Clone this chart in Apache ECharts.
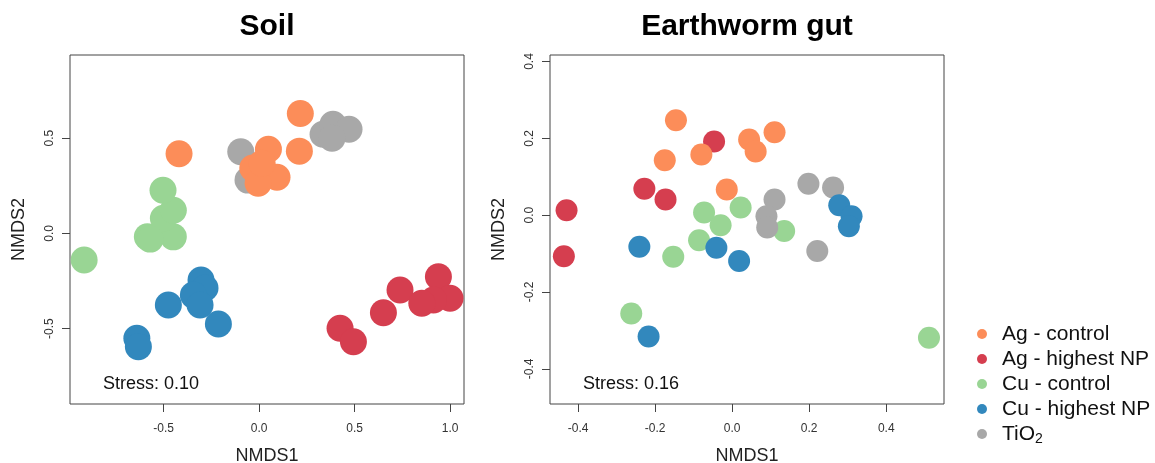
<!DOCTYPE html>
<html>
<head>
<meta charset="utf-8">
<script src="https://cdn.jsdelivr.net/npm/echarts@6/dist/echarts.min.js"></script>
<style>html,body{margin:0;padding:0;background:#fff;}#c{width:1155px;height:463px;}</style>
</head>
<body>
<div id="c"></div>
<script>
// ---- Data ----
const groupNames = ['Ag - control', 'Ag - highest NP', 'Cu - control', 'Cu - highest NP', 'TiO2'];
const groupColors = ['#FC8D59', '#D53E4F', '#99D594', '#3288BD', '#A8A8A8'];

// Soil panel
const soilAgControl = [[0.216,0.630],[-0.419,0.418],[0.211,0.432],[0.049,0.442],[-0.033,0.343],[0.094,0.295],[-0.005,0.264],[0.016,0.369]];
const soilAgHighNP  = [[0.939,-0.228],[0.738,-0.297],[1.000,-0.341],[0.913,-0.350],[0.852,-0.367],[0.651,-0.417],[0.424,-0.498],[0.494,-0.569]];
const soilCuControl = [[-0.916,-0.140],[-0.585,-0.018],[-0.449,-0.018],[-0.501,0.080],[-0.449,0.122],[-0.503,0.227],[-0.570,-0.030]];
const soilCuHighNP  = [[-0.304,-0.245],[-0.283,-0.287],[-0.344,-0.324],[-0.309,-0.376],[-0.475,-0.376],[-0.213,-0.476],[-0.640,-0.551],[-0.632,-0.595]];
const soilTiO2      = [[-0.096,0.429],[-0.058,0.280],[0.335,0.521],[0.387,0.573],[0.471,0.547],[0.382,0.500]];

// Earthworm gut panel
const gutAgControl = [[-0.146,0.247],[-0.175,0.143],[-0.080,0.158],[0.044,0.197],[0.061,0.166],[0.110,0.216],[-0.014,0.067]];
const gutAgHighNP  = [[-0.047,0.192],[-0.228,0.069],[-0.173,0.041],[-0.430,0.013],[-0.437,-0.107]];
const gutCuControl = [[-0.073,0.007],[0.022,0.020],[-0.030,-0.026],[-0.086,-0.065],[-0.153,-0.108],[0.135,-0.041],[-0.262,-0.256],[0.511,-0.319]];
const gutCuHighNP  = [[-0.241,-0.082],[-0.041,-0.085],[0.018,-0.119],[-0.217,-0.316],[0.278,0.026],[0.310,-0.003],[0.303,-0.029]];
const gutTiO2      = [[0.198,0.082],[0.262,0.072],[0.110,0.041],[0.089,-0.003],[0.091,-0.032],[0.221,-0.093]];

// Axis ranges and ticks
const soilXRange = [-0.99, 1.073], soilYRange = [-0.896, 0.937];
const gutXRange = [-0.473, 0.550], gutYRange = [-0.4915, 0.417];
const soilXTicks = [-0.5, 0, 0.5, 1.0];
const soilYTicks = [-0.5, 0, 0.5];
const gutXTicks = [-0.4, -0.2, 0, 0.2, 0.4];
const gutYTicks = [-0.4, -0.2, 0, 0.2, 0.4];
const stressSoil = 'Stress: 0.10';
const stressGut = 'Stress: 0.16';

// ---- Chart ----
const FONT = 'Liberation Sans, Arial, sans-serif';
const chart = echarts.init(document.getElementById('c'), null, {renderer: 'canvas'});

function xAxis(idx, range, ticks) {
  return {
    type: 'value', gridIndex: idx, min: range[0], max: range[1], position: 'bottom',
    name: 'NMDS1', nameLocation: 'middle', nameGap: 43, nameMoveOverlap: false,
    nameTextStyle: {fontSize: 18, color: '#222', fontFamily: FONT},
    axisLine: {show: false, onZero: false},
    axisTick: {show: true, inside: false, length: 8, customValues: ticks, lineStyle: {color: '#444'}},
    axisLabel: {show: true, customValues: ticks, margin: 19, fontSize: 12, color: '#333', fontFamily: FONT,
      formatter: v => v.toFixed(1)},
    splitLine: {show: false}
  };
}
function yAxis(idx, range, ticks) {
  return {
    type: 'value', gridIndex: idx, min: range[0], max: range[1], position: 'left',
    name: 'NMDS2', nameLocation: 'middle', nameGap: 42, nameMoveOverlap: false,
    nameTextStyle: {fontSize: 18, color: '#222', fontFamily: FONT},
    axisLine: {show: false, onZero: false},
    axisTick: {show: true, inside: false, length: 8, customValues: ticks, lineStyle: {color: '#444'}},
    axisLabel: {show: true, customValues: ticks, rotate: 90, margin: 14, fontSize: 12, color: '#333', fontFamily: FONT,
      formatter: v => v.toFixed(1)},
    splitLine: {show: false}
  };
}

const soilData = [soilAgControl, soilAgHighNP, soilCuControl, soilCuHighNP, soilTiO2];
const gutData = [gutAgControl, gutAgHighNP, gutCuControl, gutCuHighNP, gutTiO2];
// drawing order (later on top): Ag highest NP, Cu control, TiO2, Ag control, Cu highest NP
const drawOrder = [1, 2, 4, 0, 3];

const series = [];
[[soilData, 0, 27], [gutData, 1, 22]].forEach(([data, gi, size]) => {
  drawOrder.forEach(k => {
    series.push({
      type: 'scatter', name: groupNames[k], xAxisIndex: gi, yAxisIndex: gi,
      data: data[k], symbol: 'circle', symbolSize: size,
      itemStyle: {color: groupColors[k], opacity: 1, borderWidth: 0},
      emphasis: {disabled: true}, silent: true
    });
  });
});

chart.setOption({
  animation: false,
  backgroundColor: '#fff',
  grid: [
    {left: 70, top: 55, width: 394, height: 349, show: true, borderColor: '#444', borderWidth: 1, backgroundColor: 'transparent', outerBoundsMode: 'none', containLabel: false},
    {left: 550, top: 55, width: 394, height: 349, show: true, borderColor: '#444', borderWidth: 1, backgroundColor: 'transparent', outerBoundsMode: 'none', containLabel: false}
  ],
  xAxis: [xAxis(0, soilXRange, soilXTicks), xAxis(1, gutXRange, gutXTicks)],
  yAxis: [yAxis(0, soilYRange, soilYTicks), yAxis(1, gutYRange, gutYTicks)],
  legend: {
    orient: 'vertical', left: 972, top: 317,
    data: groupNames.map(n => ({name: n, icon: 'circle'})),
    itemWidth: 26, itemHeight: 10, itemGap: 1,
    selectedMode: false,
    formatter: n => n === 'TiO2' ? '{n|TiO}{s|2}' : n,
    textStyle: {fontSize: 21, color: '#111', fontFamily: FONT, lineHeight: 24, padding: [0, 0, 0, 2],
      rich: {n: {fontSize: 21, fontFamily: FONT, color: '#111', lineHeight: 24},
             s: {fontSize: 14, fontFamily: FONT, color: '#111', verticalAlign: 'bottom', lineHeight: 18, padding: [10, 0, 0, 0]}}}
  },
  graphic: [
    {type: 'text', x: 267, y: 27, style: {text: 'Soil', font: 'bold 30px ' + FONT, fill: '#000', textAlign: 'center', textVerticalAlign: 'middle'}},
    {type: 'text', x: 747, y: 27, style: {text: 'Earthworm gut', font: 'bold 30px ' + FONT, fill: '#000', textAlign: 'center', textVerticalAlign: 'middle'}},
    {type: 'text', x: 103, y: 384, style: {text: stressSoil, font: '18px ' + FONT, fill: '#111', textAlign: 'left', textVerticalAlign: 'middle'}},
    {type: 'text', x: 583, y: 384, style: {text: stressGut, font: '18px ' + FONT, fill: '#111', textAlign: 'left', textVerticalAlign: 'middle'}}
  ],
  series: series
});
</script>
</body>
</html>
